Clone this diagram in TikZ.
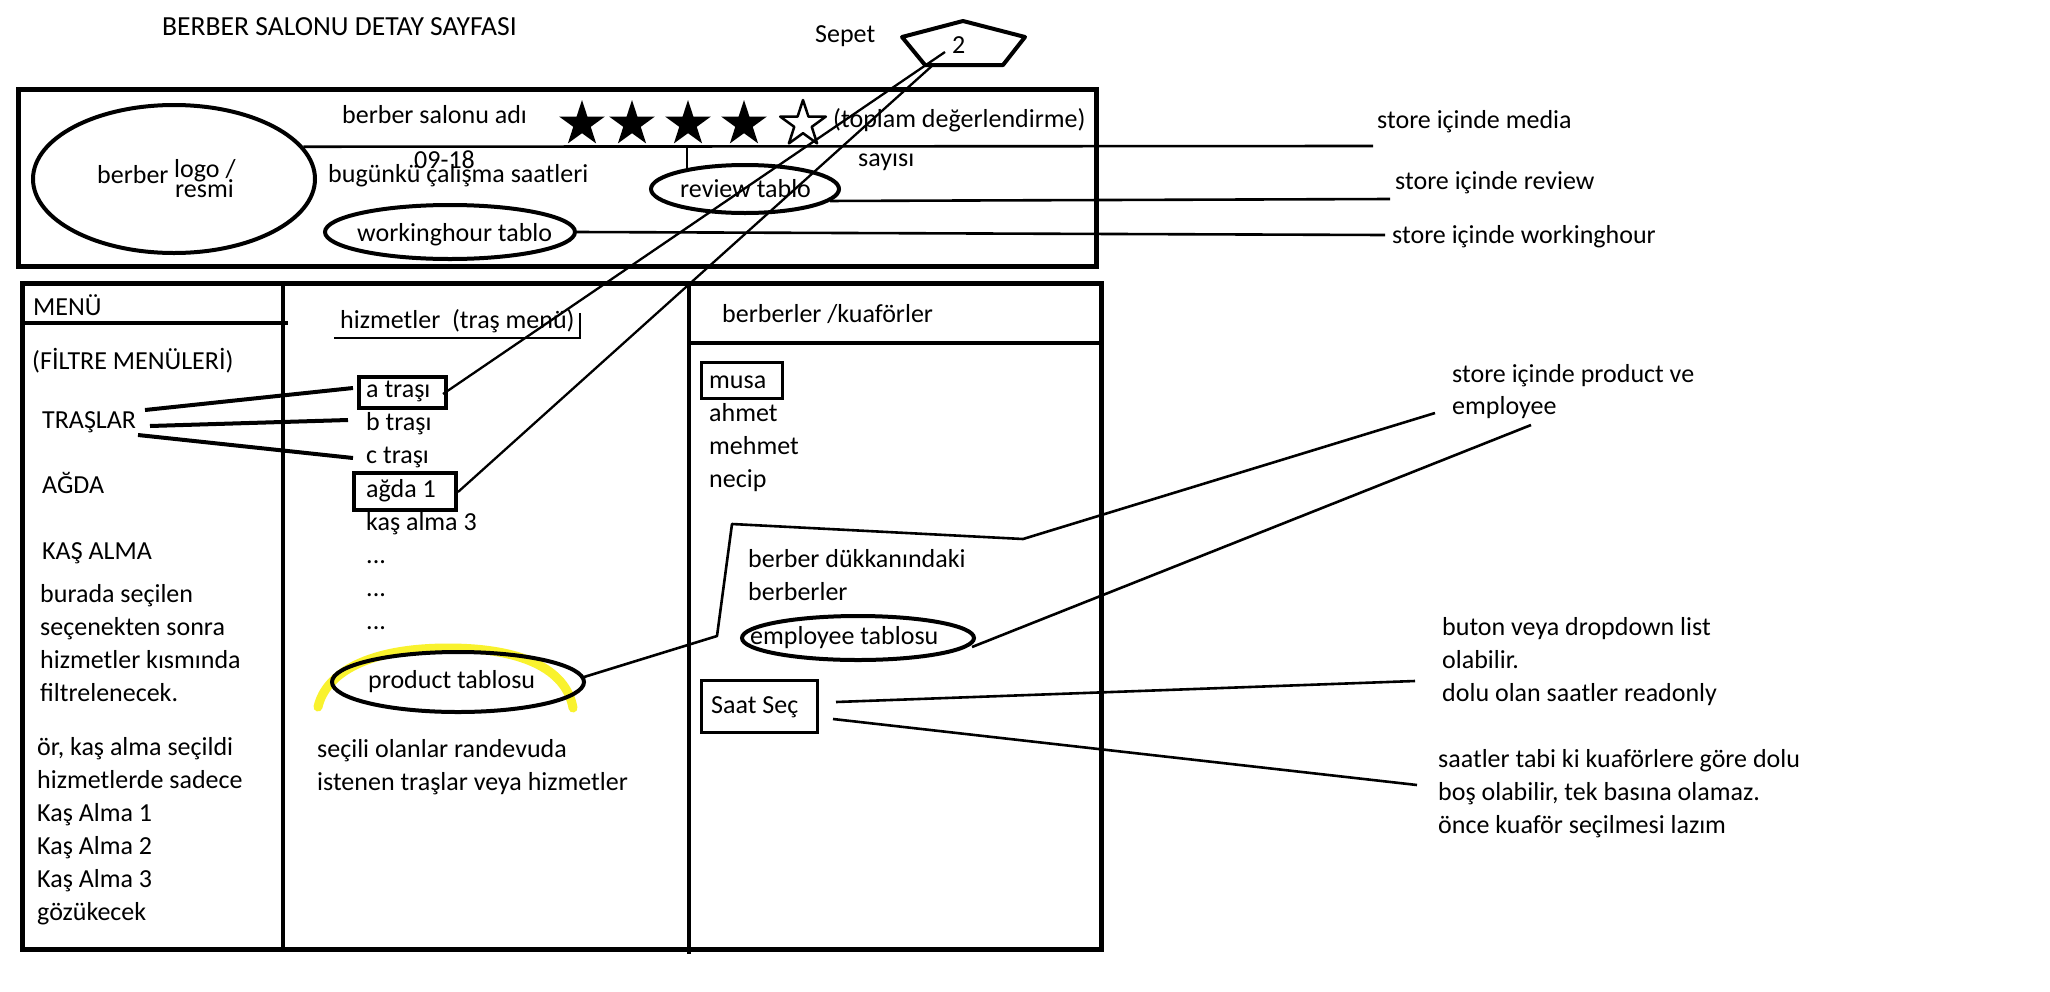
\documentclass[tikz,border=0pt]{standalone}
\usepackage{fontspec}
\setmainfont{Carlito}
\usetikzlibrary{shapes.geometric}
\definecolor{marker}{RGB}{248,240,10}
\tikzset{
  ratingstar/.pic={\path[pic actions] (90:24pt) -- (126:9.2pt) -- (162:24pt) -- (198:9.2pt) -- (234:24pt) -- (270:9.2pt) -- (306:24pt) -- (342:9.2pt) -- (18:24pt) -- (54:9.2pt) -- cycle;}
}
\begin{document}
\begin{tikzpicture}[x=1pt,y=-1pt,
  txt/.style={inner sep=0pt, anchor=base west, font=\fontsize{26}{31}\selectfont},
  boxline/.style={line width=5pt},
  bar/.style={line width=4pt},
  link/.style={line width=2.6pt},
  oval/.style={ellipse, draw, line width=4pt, inner sep=0pt},
  itembox/.style={draw, inner sep=0pt},
]
\fill[white] (0,0) rectangle (2050,991);
\useasboundingbox (0,0) rectangle (2050,991);

% ---------- page title and basket ----------
\node[txt, font=\fontsize{27.6}{32}\selectfont] (title) at (162,35) {BERBER SALONU DETAY SAYFASI};
\node[txt] (sepetlbl) at (815,42) {Sepet};
\draw[line width=4pt, line join=round] (963,21) -- (1025,37) -- (1003,65) -- (925,65) -- (902,37) -- cycle;
\node[txt] (count) at (952,53) {2};
\coordinate (cartA) at (945,52);
\coordinate (cartB) at (933,65);

% ---------- shop header ----------
\draw[boxline] (18,89) rectangle (1096,266);
\node[oval, minimum width=282pt, minimum height=148pt] (logo) at (174,179) {};
\node[txt] (logoa) at (97,183) {berber};
\node[txt] (logob) at (174,177) {logo /};
\node[txt] (logoc) at (175,197) {resmi};

\node[txt] (salon) at (342,123) {berber salonu adı};
\foreach \sx [count=\k] in {582,632,688,744}
  \pic[fill=black] (star\k) at (\sx,124) {ratingstar};
\pic[draw=black, line width=2.5pt, line join=round] (star5) at (803,124) {ratingstar};
\node[txt] (toplam) at (833,127) {(toplam değerlendirme)};
\node[txt] (sayisi) at (858,166) {sayısı};

\node[txt] (hours) at (414,168) {09-18};
\node[txt] (bugun) at (328,182) {bugünkü çalışma saatleri};

\node[oval, minimum width=250pt, minimum height=54pt] (whtab) at (450,232) {};
\node[txt] (whtxt) at (357,241) {workinghour tablo};
\node[oval, minimum width=188pt, minimum height=48pt] (revtab) at (745,189) {};
\node[txt] (revtxt) at (680,197) {review tablo};

% notes on the right of the header
\node[txt] (nmedia) at (1377,128) {store içinde media};
\node[txt] (nreview) at (1395,189) {store içinde review};
\node[txt] (nwork) at (1392,243) {store içinde workinghour};
\coordinate (medEnd) at (1373,146);
\coordinate (revEnd) at (1390,199);
\coordinate (whEnd) at (1385,235);
\coordinate (tickTop) at (687,148);
\coordinate (tickBot) at (687,170);
\draw[link] (logo.14) -- (medEnd);
\draw[link] (tickTop) -- (tickBot);
\draw[link] (revtab.-8) -- (revEnd);
\draw[link] (whtab.east) -- (whEnd);

% ---------- lower panel frame ----------
\draw[boxline] (22,283) rectangle (1101,949);
\draw[bar] (283,283) -- (283,949);
\draw[bar] (689,283) -- (689,954);
\draw[bar] (22,323) -- (288,323);
\draw[bar] (689,343) -- (1101,343);

% ---------- filter menu column ----------
\node[txt] (menu) at (33,315) {MENÜ};
\node[txt] (filtre) at (32,369) {(FİLTRE MENÜLERİ)};
\node[txt] (traslar) at (42,428) {TRAŞLAR};
\node[txt] (agda) at (42,493) {AĞDA};
\node[txt] (kas) at (42,559) {KAŞ ALMA};
\foreach \t [count=\i] in {burada seçilen, seçenekten sonra, hizmetler kısmında, filtrelenecek.}
  \node[txt] (note\i) at (40,{569+33*\i}) {\t};
\foreach \t [count=\i] in {{ör, kaş alma seçildi}, hizmetlerde sadece, Kaş Alma 1, Kaş Alma 2, Kaş Alma 3, gözükecek}
  \node[txt] (ex\i) at (37,{722+33*\i}) {\t};

% ---------- services column ----------
\node[txt] (hiz) at (340,328) {hizmetler\ \ (traş menü)};
\draw[line width=1.5pt] (334,338) -- (580,338) -- (580,313);
\node[itembox, line width=4.5pt, minimum width=87pt, minimum height=31pt] (boxa) at (402.5,392.5) {};
\node[txt] (sa) at (366,397) {a traşı};
\node[txt] (sb) at (366,430) {b traşı};
\node[txt] (sc) at (366,463) {c traşı};
\node[itembox, line width=4.5pt, minimum width=102pt, minimum height=37pt] (boxag) at (405,491.5) {};
\node[txt] (sag) at (366,497) {ağda 1};
\node[txt] (skas) at (366,530) {kaş alma 3};
\foreach \i in {1,2,3}
  \node[txt] (dots\i) at (366,{530+33.3*\i}) {...};

% highlighter stroke around the product table
\draw[marker, line width=9pt, opacity=0.85, line cap=round]
  (318,707) .. controls (326,672) and (370,648) .. (448,648)
            .. controls (520,648) and (566,668) .. (573,708);
\node[oval, minimum width=252pt, minimum height=60pt] (prodtab) at (458,682) {};
\node[txt] (prodtxt) at (368,688) {product tablosu};
\node[txt] (sel1) at (317,757) {seçili olanlar randevuda};
\node[txt] (sel2) at (317,790) {istenen traşlar veya hizmetler};

\coordinate (trA) at (145,410);
\coordinate (trB) at (150,426);
\coordinate (trC) at (138,435);
\coordinate (inA) at (353,388);
\coordinate (inB) at (348,420);
\coordinate (inC) at (353,458);
\draw[line width=4pt] (trA) -- (inA);
\draw[line width=4pt] (trB) -- (inB);
\draw[line width=4pt] (trC) -- (inC);

\coordinate (aEnd) at (443,394);
\coordinate (agEnd) at (458,492);
\draw[line width=2.3pt] (aEnd) -- (cartA);
\draw[line width=2.3pt] (agEnd) -- (cartB);

% ---------- barbers column ----------
\node[txt] (berberler) at (722,322) {berberler /kuaförler};
\node[itembox, line width=3pt, minimum width=81pt, minimum height=36pt] (musabox) at (741.5,380) {};
\node[txt] (musa) at (709,388) {musa};
\node[txt] (ahmet) at (709,421) {ahmet};
\node[txt] (mehmet) at (709,454) {mehmet};
\node[txt] (necip) at (709,487) {necip};
\node[txt] (dk1) at (748,567) {berber dükkanındaki};
\node[txt] (dk2) at (748,600) {berberler};
\node[oval, minimum width=232pt, minimum height=44pt] (emptab) at (858,638) {};
\node[txt] (emptxt) at (750,644) {employee tablosu};
\node[itembox, line width=3pt, minimum width=116pt, minimum height=52pt] (saat) at (759,706) {};
\node[txt] (saattxt) at (711,713) {Saat Seç};

% ---------- notes on the right ----------
\node[txt] (npe1) at (1452,382) {store içinde product ve};
\node[txt] (npe2) at (1452,414) {employee};
\node[txt] (nb1) at (1442,635) {buton veya dropdown list};
\node[txt] (nb2) at (1442,668) {olabilir.};
\node[txt] (nb3) at (1442,701) {dolu olan saatler readonly};
\node[txt] (ns1) at (1438,767) {saatler tabi ki kuaförlere göre dolu};
\node[txt] (ns2) at (1438,800) {boş olabilir, tek basına olamaz.};
\node[txt] (ns3) at (1438,833) {önce kuaför seçilmesi lazım};

\coordinate (pStart) at (584,677);
\coordinate (pk1) at (717,636);
\coordinate (pk2) at (732,524);
\coordinate (pk3) at (1023,539);
\coordinate (peEnd) at (1435,413);
\draw[link, line join=round] (pStart) -- (pk1) -- (pk2) -- (pk3) -- (peEnd);
\coordinate (eStart) at (972,647);
\coordinate (eEnd) at (1531,425);
\draw[link] (eStart) -- (eEnd);
\coordinate (s1Start) at (836,702);
\coordinate (s1End) at (1415,681);
\coordinate (s2Start) at (833,719);
\coordinate (s2End) at (1417,785);
\draw[link] (s1Start) -- (s1End);
\draw[link] (s2Start) -- (s2End);
\end{tikzpicture}
\end{document}
